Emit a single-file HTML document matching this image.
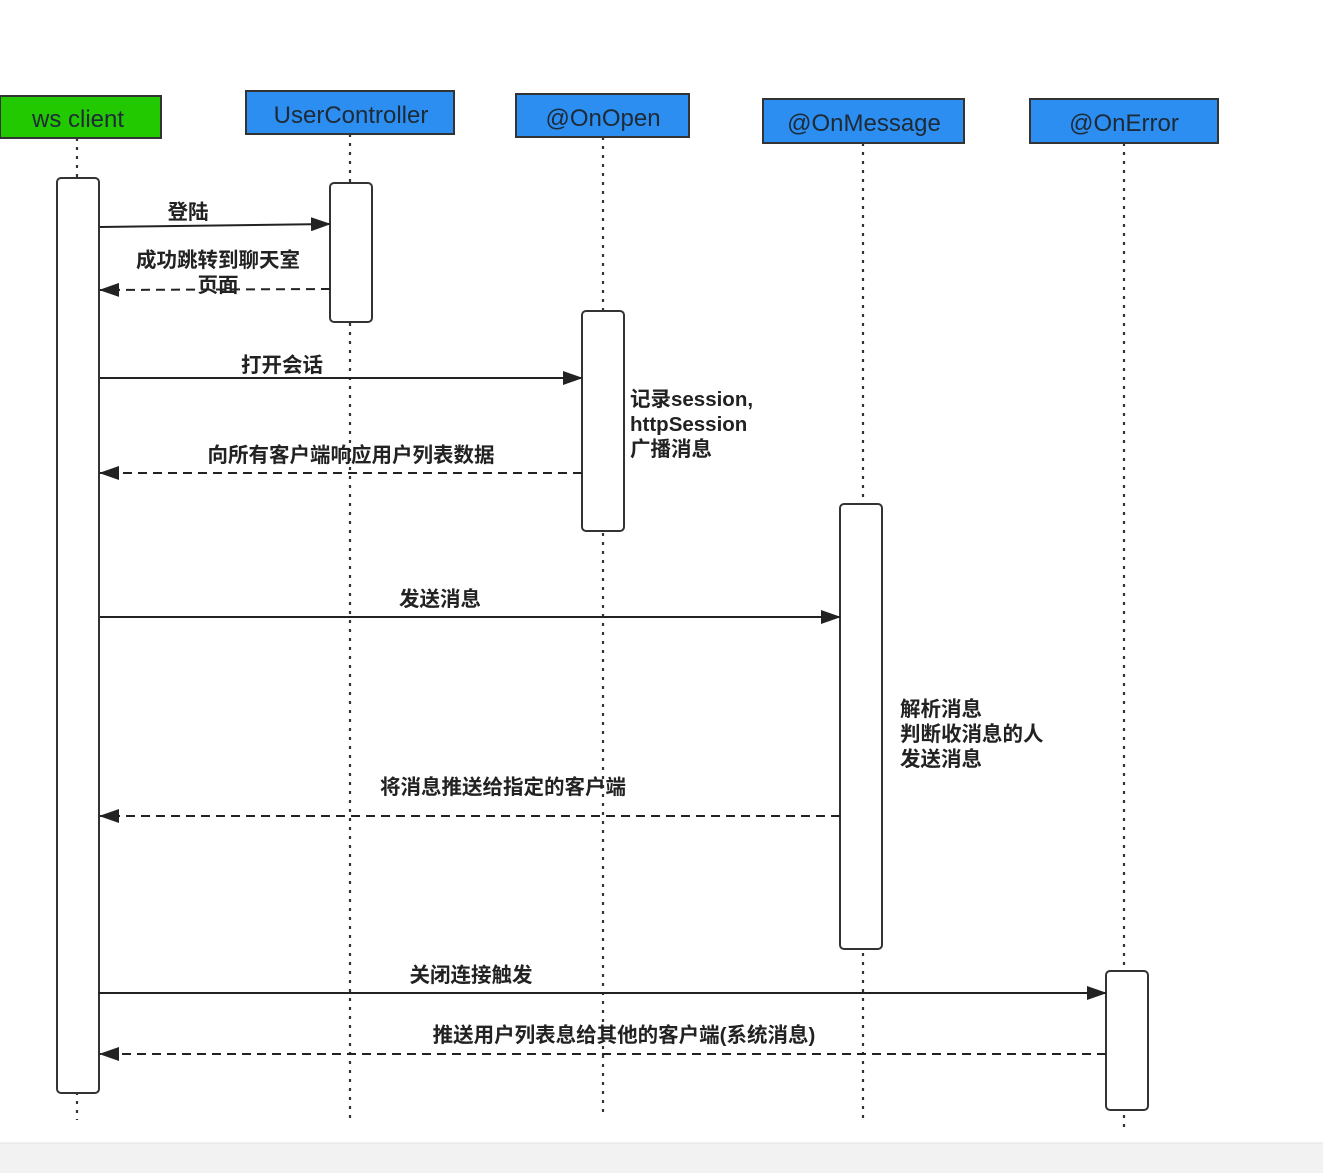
<!DOCTYPE html>
<html><head><meta charset="utf-8"><style>
html,body{margin:0;padding:0;background:#fff;}
svg{display:block;}
text{font-family:"Liberation Sans","Noto Sans CJK SC",sans-serif;}
</style></head><body>
<svg width="1323" height="1173" viewBox="0 0 1323 1173" xmlns="http://www.w3.org/2000/svg">
<defs>
<marker id="a" markerWidth="20" markerHeight="14" refX="19" refY="7" orient="auto" markerUnits="userSpaceOnUse">
<path d="M0,0 L20,7 L0,14 Z" fill="#222"/></marker>
</defs>
<rect x="0" y="0" width="1323" height="1173" fill="#fff"/>
<rect x="0" y="1143" width="1323" height="30" fill="#f2f2f2"/>
<line x1="0" y1="1143" x2="1323" y2="1143" stroke="#e2e2e2"/>
<g stroke="#333" stroke-width="2.2" stroke-dasharray="3,6">
<line x1="77" y1="138" x2="77" y2="1120"/>
<line x1="350" y1="134" x2="350" y2="1118"/>
<line x1="603" y1="137" x2="603" y2="1118"/>
<line x1="863" y1="143" x2="863" y2="1118"/>
<line x1="1124" y1="143" x2="1124" y2="1128"/>
</g>
<g stroke="#333" stroke-width="2">
<rect x="0" y="96" width="161" height="42" fill="#22c800"/>
<rect x="246" y="91" width="208" height="43" fill="#2b8ef0"/>
<rect x="516" y="94" width="173" height="43" fill="#2b8ef0"/>
<rect x="763" y="99" width="201" height="44" fill="#2b8ef0"/>
<rect x="1030" y="99" width="188" height="44" fill="#2b8ef0"/>
</g>
<g font-size="24" fill="#1e2a36" text-anchor="middle">
<text x="78" y="127">ws client</text>
<text x="351" y="123">UserController</text>
<text x="603" y="126">@OnOpen</text>
<text x="864" y="131">@OnMessage</text>
<text x="1124" y="131">@OnError</text>
</g>
<g stroke="#333" stroke-width="2" fill="#fff">
<rect x="57" y="178" width="42" height="915" rx="4"/>
<rect x="330" y="183" width="42" height="139" rx="4"/>
<rect x="582" y="311" width="42" height="220" rx="4"/>
<rect x="840" y="504" width="42" height="445" rx="4"/>
<rect x="1106" y="971" width="42" height="139" rx="4"/>
</g>
<g stroke="#222" stroke-width="2" fill="none">
<line x1="100" y1="227" x2="330" y2="224" marker-end="url(#a)"/>
<line x1="330" y1="289" x2="100" y2="290" stroke-dasharray="9,6" marker-end="url(#a)"/>
<line x1="100" y1="378" x2="582" y2="378" marker-end="url(#a)"/>
<line x1="582" y1="473" x2="100" y2="473" stroke-dasharray="9,6" marker-end="url(#a)"/>
<line x1="100" y1="617" x2="840" y2="617" marker-end="url(#a)"/>
<line x1="840" y1="816" x2="100" y2="816" stroke-dasharray="9,6" marker-end="url(#a)"/>
<line x1="98" y1="993" x2="1106" y2="993" marker-end="url(#a)"/>
<line x1="1106" y1="1054" x2="100" y2="1054" stroke-dasharray="9,6" marker-end="url(#a)"/>
</g>
<g font-size="20.5" fill="#222" text-anchor="middle" font-weight="bold">
<text x="188" y="219">登陆</text>
<text x="218" y="267">成功跳转到聊天室</text>
<text x="218" y="292">页面</text>
<text x="282" y="372">打开会话</text>
<text x="351" y="462">向所有客户端响应用户列表数据</text>
<text x="440" y="606">发送消息</text>
<text x="503" y="794">将消息推送给指定的客户端</text>
<text x="471" y="982">关闭连接触发</text>
<text x="624" y="1042">推送用户列表息给其他的客户端(系统消息)</text>
</g>
<g font-size="20.5" fill="#222" font-weight="bold">
<text x="630" y="406">记录session,</text>
<text x="630" y="431">httpSession</text>
<text x="630" y="456">广播消息</text>
<text x="900" y="716">解析消息</text>
<text x="900" y="741">判断收消息的人</text>
<text x="900" y="766">发送消息</text>
</g>
</svg>
</body></html>
